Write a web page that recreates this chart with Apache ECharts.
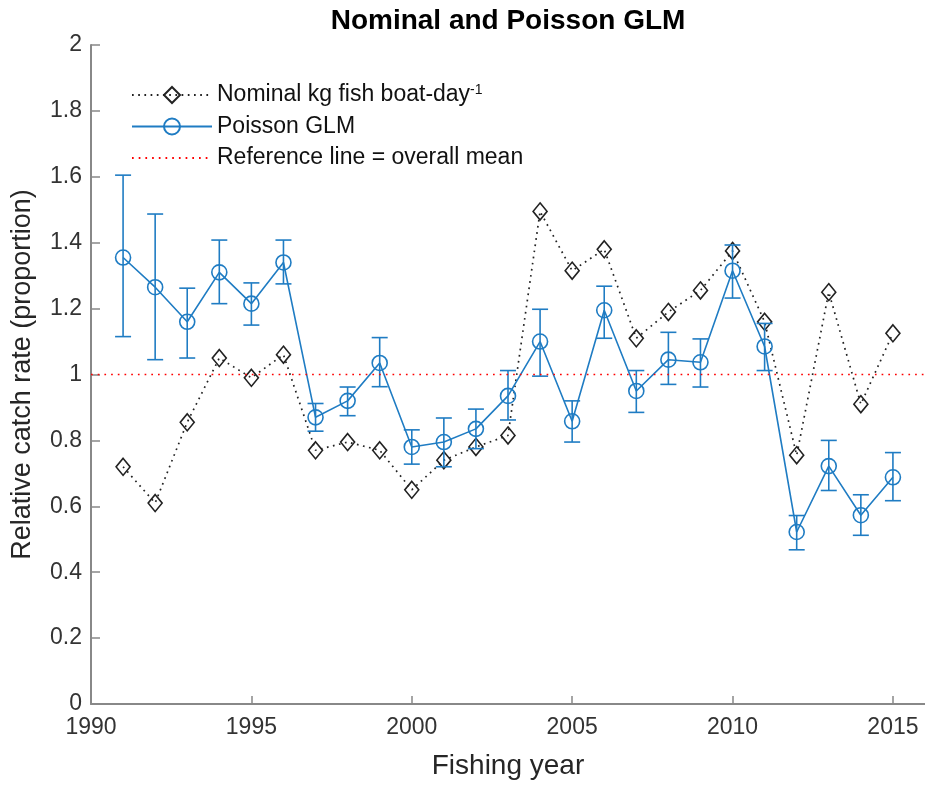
<!DOCTYPE html>
<html>
<head>
<meta charset="utf-8">
<script src="https://cdn.jsdelivr.net/npm/echarts@6/dist/echarts.min.js"></script>
<style>
html,body{margin:0;padding:0;background:#fff;}
#chart{width:925px;height:785px;}
</style>
</head>
<body>
<div id="chart"></div>
<script>
var years = [1991,1992,1993,1994,1995,1996,1997,1998,1999,2000,2001,2002,2003,2004,2005,2006,2007,2008,2009,2010,2011,2012,2013,2014,2015];
var nominal = [0.72,0.61,0.855,1.05,0.99,1.06,0.77,0.795,0.77,0.65,0.74,0.78,0.815,1.495,1.315,1.38,1.11,1.19,1.255,1.375,1.16,0.755,1.25,0.91,1.125];
var glm = [1.355,1.265,1.16,1.31,1.215,1.34,0.87,0.92,1.035,0.78,0.795,0.835,0.935,1.10,0.858,1.195,0.95,1.045,1.037,1.315,1.085,0.522,0.722,0.573,0.688];
var glmLower = [1.115,1.045,1.05,1.215,1.15,1.275,0.828,0.875,0.963,0.728,0.72,0.775,0.862,0.995,0.795,1.11,0.885,0.97,0.962,1.232,1.012,0.468,0.648,0.512,0.617];
var glmUpper = [1.605,1.487,1.262,1.408,1.278,1.408,0.912,0.962,1.112,0.832,0.868,0.895,1.012,1.198,0.92,1.268,1.012,1.128,1.108,1.393,1.155,0.572,0.80,0.635,0.763];
var refX = [1990, 2016];
var refY = [1, 1];
var xRange = [1990, 2016];
var yRange = [0, 2];

var FONT = '"Liberation Sans", Arial, Helvetica, sans-serif';
var BLUE = '#1f7cc3';
var names = ['Nominal kg fish boat-day', 'Poisson GLM', 'Reference line = overall mean'];

var chart = echarts.init(document.getElementById('chart'));
var option = {
  backgroundColor: '#fff',
  animation: false,
  title: {
    text: 'Nominal and Poisson GLM',
    left: 508, top: 7, padding: 0, textAlign: 'center',
    textStyle: {fontFamily: FONT, fontSize: 28, fontWeight: 'bold', color: '#000'}
  },
  legend: {
    orient: 'vertical', left: 131, top: 83, padding: 0,
    itemWidth: 80, itemHeight: 20, itemGap: 7.5,
    data: names,
    formatter: function (n) { return n === names[0] ? n + '{sup|-1}' : n; },
    textStyle: {
      fontFamily: FONT, fontSize: 23, color: '#111', lineHeight: 24,
      rich: {sup: {fontFamily: FONT, fontSize: 14, lineHeight: 14, verticalAlign: 'top', color: '#111'}}
    }
  },
  grid: {left: 91, top: 45, right: 0, bottom: 78, containLabel: false},
  xAxis: {
    type: 'value', min: xRange[0], max: xRange[1], interval: 5,
    name: 'Fishing year', nameLocation: 'middle', nameGap: 48,
    nameTextStyle: {fontFamily: FONT, fontSize: 28, color: '#262626'},
    axisLine: {show: true, lineStyle: {color: '#888', width: 2}},
    axisTick: {show: true, inside: true, length: 8, lineStyle: {color: '#888', width: 1.5}},
    axisLabel: {fontFamily: FONT, fontSize: 23, color: '#333', margin: 12, showMaxLabel: false,
      formatter: function (v) { return String(v); }},
    splitLine: {show: false}
  },
  yAxis: {
    type: 'value', min: yRange[0], max: yRange[1], interval: 0.2,
    name: 'Relative catch rate (proportion)', nameLocation: 'middle', nameGap: 55,
    nameTextStyle: {fontFamily: FONT, fontSize: 27, color: '#262626'},
    axisLine: {show: true, lineStyle: {color: '#888', width: 2}},
    axisTick: {show: true, inside: true, length: 9, lineStyle: {color: '#888', width: 1.5}},
    axisLabel: {fontFamily: FONT, fontSize: 23, color: '#333', margin: 9},
    splitLine: {show: false}
  },
  series: [
    {
      name: names[0], type: 'line',
      data: years.map(function (y, i) { return [y, nominal[i]]; }),
      symbol: 'diamond', symbolSize: [14, 17],
      lineStyle: {color: '#222', width: 1.7, type: [1.7, 4.5]},
      itemStyle: {color: 'rgba(255,255,255,0)', borderColor: '#222', borderWidth: 1.6},
      z: 3
    },
    {
      name: names[1], type: 'line',
      data: years.map(function (y, i) { return [y, glm[i]]; }),
      symbol: 'circle', symbolSize: 15,
      lineStyle: {color: BLUE, width: 1.6},
      itemStyle: {color: 'rgba(255,255,255,0)', borderColor: BLUE, borderWidth: 1.6},
      z: 4
    },
    {
      name: 'errors', type: 'custom',
      data: years.map(function (y, i) { return [y, glmLower[i], glmUpper[i]]; }),
      renderItem: function (params, api) {
        var x = api.value(0);
        var lo = api.coord([x, api.value(1)]);
        var hi = api.coord([x, api.value(2)]);
        var hw = 8;
        var st = {stroke: BLUE, lineWidth: 1.6};
        return {type: 'group', children: [
          {type: 'line', shape: {x1: lo[0], y1: lo[1], x2: hi[0], y2: hi[1]}, style: st},
          {type: 'line', shape: {x1: lo[0] - hw, y1: lo[1], x2: lo[0] + hw, y2: lo[1]}, style: st},
          {type: 'line', shape: {x1: hi[0] - hw, y1: hi[1], x2: hi[0] + hw, y2: hi[1]}, style: st}
        ]};
      },
      z: 4
    },
    {
      name: names[2], type: 'line',
      data: refX.map(function (x, i) { return [x, refY[i]]; }),
      symbol: 'none',
      lineStyle: {color: '#ff0000', width: 1.7, type: [1.7, 5]},
      itemStyle: {color: 'rgba(255,255,255,0)', borderColor: 'rgba(255,255,255,0)'},
      z: 5
    }
  ]
};
chart.setOption(option);
</script>
</body>
</html>
